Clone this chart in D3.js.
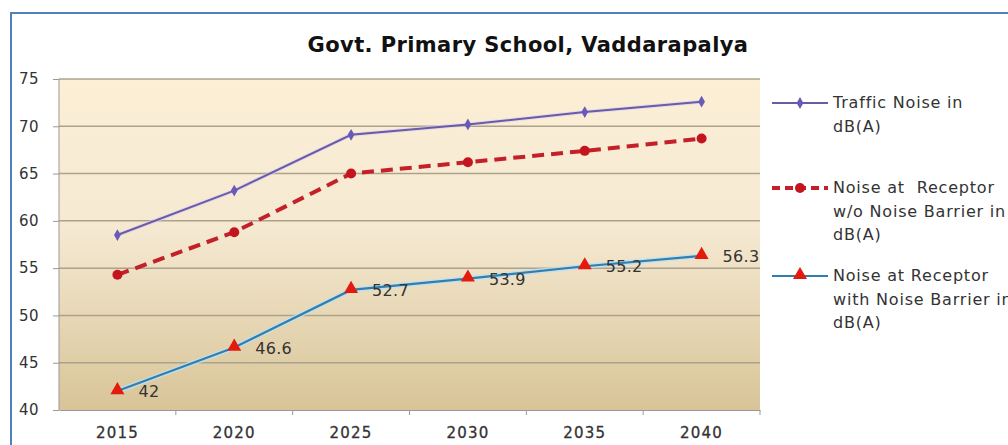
<!DOCTYPE html>
<html><head><meta charset="utf-8">
<script src="https://cdn.jsdelivr.net/npm/d3@7"></script>
<style>body{margin:0;background:#fff;}svg{display:block;font-family:"DejaVu Sans",Verdana,sans-serif;}</style>
</head><body>
<svg id="c" width="1008" height="445"></svg>
<script>
const years = ["2015","2020","2025","2030","2035","2040"];
const trafficNoise = [58.5, 63.2, 69.1, 70.2, 71.5, 72.6];
const noWithoutBarrier = [54.3, 58.8, 65.0, 66.2, 67.4, 68.7];
const noWithBarrier = [42, 46.6, 52.7, 53.9, 55.2, 56.3];
const yTicks = [40,45,50,55,60,65,70,75];
const title = "Govt. Primary School, Vaddarapalya";
const legendLabels = [
  ["Traffic Noise in","dB(A)"],
  ["Noise at  Receptor","w/o Noise Barrier in","dB(A)"],
  ["Noise at Receptor","with Noise Barrier in","dB(A)"]
];

const svg = d3.select("#c");
const L = 59, R = 760, T = 79, B = 410;
const x = d3.scaleBand().domain(years).range([L, R]);
const y = d3.scaleLinear().domain([40, 75]).range([B, T]);
const cx = d => x(d) + x.bandwidth()/2;

// outer border
svg.append("path").attr("d", `M11,445 L11,13 L1008,13`).attr("fill","none").attr("stroke","#4f81bd").attr("stroke-width",2);

// background gradient
const defs = svg.append("defs");
const g = defs.append("linearGradient").attr("id","bg").attr("x1",0).attr("y1",0).attr("x2",0).attr("y2",1);
g.append("stop").attr("offset","0%").attr("stop-color","#fcefd6");
g.append("stop").attr("offset","45%").attr("stop-color","#f5e9d2");
g.append("stop").attr("offset","100%").attr("stop-color","#d8c497");
svg.append("rect").attr("x",L).attr("y",T).attr("width",R-L).attr("height",B-T).attr("fill","url(#bg)");

// gridlines
svg.append("g").selectAll("line").data(yTicks.slice(1)).join("line")
  .attr("x1",L).attr("x2",R).attr("y1",d=>y(d)).attr("y2",d=>y(d))
  .attr("stroke","#aca28c").attr("stroke-width",1.5);

// y axis
const ya = svg.append("g").attr("transform",`translate(${L},0)`)
  .call(d3.axisLeft(y).tickValues(yTicks).tickSize(6).tickPadding(14));
ya.select(".domain").attr("stroke","#999").attr("d",`M0,${T}V${B}`);
ya.selectAll(".tick line").attr("stroke","#999");
ya.selectAll("text").attr("font-size",15).attr("fill","#333").attr("font-family","DejaVu Sans").attr("letter-spacing",0.5);

// x axis
const xa = svg.append("g").attr("transform",`translate(0,${B})`)
  .call(d3.axisBottom(x).tickSize(0).tickPadding(17));
xa.select(".domain").attr("stroke","#999");
xa.selectAll("text").attr("font-size",15).attr("fill","#333").attr("font-family","DejaVu Sans").attr("letter-spacing",1.2)
  .attr("stroke","#333").attr("stroke-width",0.3);
svg.append("g").selectAll("line").data(years.slice(1)).join("line")
  .attr("x1",d=>x(d)).attr("x2",d=>x(d)).attr("y1",B).attr("y2",B+5).attr("stroke","#999");
svg.append("line").attr("x1",R).attr("x2",R).attr("y1",B).attr("y2",B+5).attr("stroke","#999");

const line = d3.line().x((d,i)=>cx(years[i])).y(d=>y(d));

// series 1 traffic
svg.append("path").datum(trafficNoise).attr("d",line).attr("fill","none").attr("stroke","#d8d0f0").attr("stroke-width",4).attr("opacity",0.6);
svg.append("path").datum(trafficNoise).attr("d",line).attr("fill","none").attr("stroke","#6a5aa8").attr("stroke-width",2);
const diamond = d3.symbol().type(d3.symbolDiamond).size(40);
svg.append("g").selectAll("path").data(trafficNoise).join("path")
  .attr("d",diamond).attr("transform",(d,i)=>`translate(${cx(years[i])},${y(d)})`).attr("fill","#6a5ab8");

// series 2
svg.append("path").datum(noWithoutBarrier).attr("d",line).attr("fill","none").attr("stroke","#c4202a").attr("stroke-width",4).attr("stroke-dasharray","12,7");
svg.append("g").selectAll("circle").data(noWithoutBarrier).join("circle")
  .attr("cx",(d,i)=>cx(years[i])).attr("cy",d=>y(d)).attr("r",5).attr("fill","#c4141e");

// series 3
svg.append("path").datum(noWithBarrier).attr("d",line).attr("fill","none").attr("stroke","#bfe0f0").attr("stroke-width",5).attr("opacity",0.8);
svg.append("path").datum(noWithBarrier).attr("d",line).attr("fill","none").attr("stroke","#2f7fb0").attr("stroke-width",2.2);
const tri = d3.symbol().type(d3.symbolTriangle).size(85);
svg.append("g").selectAll("path").data(noWithBarrier).join("path")
  .attr("d",tri).attr("transform",(d,i)=>`translate(${cx(years[i])},${y(d)-1})`).attr("fill","#e41a0c");
svg.append("g").selectAll("text").data(noWithBarrier).join("text")
  .attr("x",(d,i)=>cx(years[i])+21).attr("y",d=>y(d)+6)
  .attr("font-size",16).attr("fill","#333").attr("letter-spacing",0.3).text(d=>d);

// title
svg.append("text").attr("x",528).attr("y",52).attr("text-anchor","middle")
  .attr("font-size",21).attr("font-weight","bold").attr("fill","#111").attr("letter-spacing",0.4).text(title);

// legend
const lg = svg.append("g");
const legY = [103, 188, 276];
const lx1 = 772, lx2 = 828;
// 1
lg.append("line").attr("x1",lx1).attr("x2",lx2).attr("y1",legY[0]).attr("y2",legY[0]).attr("stroke","#6a5aa8").attr("stroke-width",2);
lg.append("path").attr("d",diamond).attr("transform",`translate(${(lx1+lx2)/2},${legY[0]})`).attr("fill","#6a5ab8");
// 2
lg.append("line").attr("x1",lx1).attr("x2",lx2).attr("y1",legY[1]).attr("y2",legY[1]).attr("stroke","#c4202a").attr("stroke-width",4).attr("stroke-dasharray","8,5");
lg.append("circle").attr("cx",(lx1+lx2)/2).attr("cy",legY[1]).attr("r",5).attr("fill","#c4141e");
// 3
lg.append("line").attr("x1",lx1).attr("x2",lx2).attr("y1",legY[2]).attr("y2",legY[2]).attr("stroke","#2f7fb0").attr("stroke-width",2.2);
lg.append("path").attr("d",tri).attr("transform",`translate(${(lx1+lx2)/2},${legY[2]-1})`).attr("fill","#e41a0c");

legendLabels.forEach((lines,k)=>{
  lines.forEach((t,j)=>{
    lg.append("text").attr("x",833).attr("y",legY[k]+5+j*23.5)
      .attr("font-size",16).attr("fill","#333").attr("letter-spacing",0.8)
      .style("white-space","pre").text(t);
  });
});
</script>
</body></html>
